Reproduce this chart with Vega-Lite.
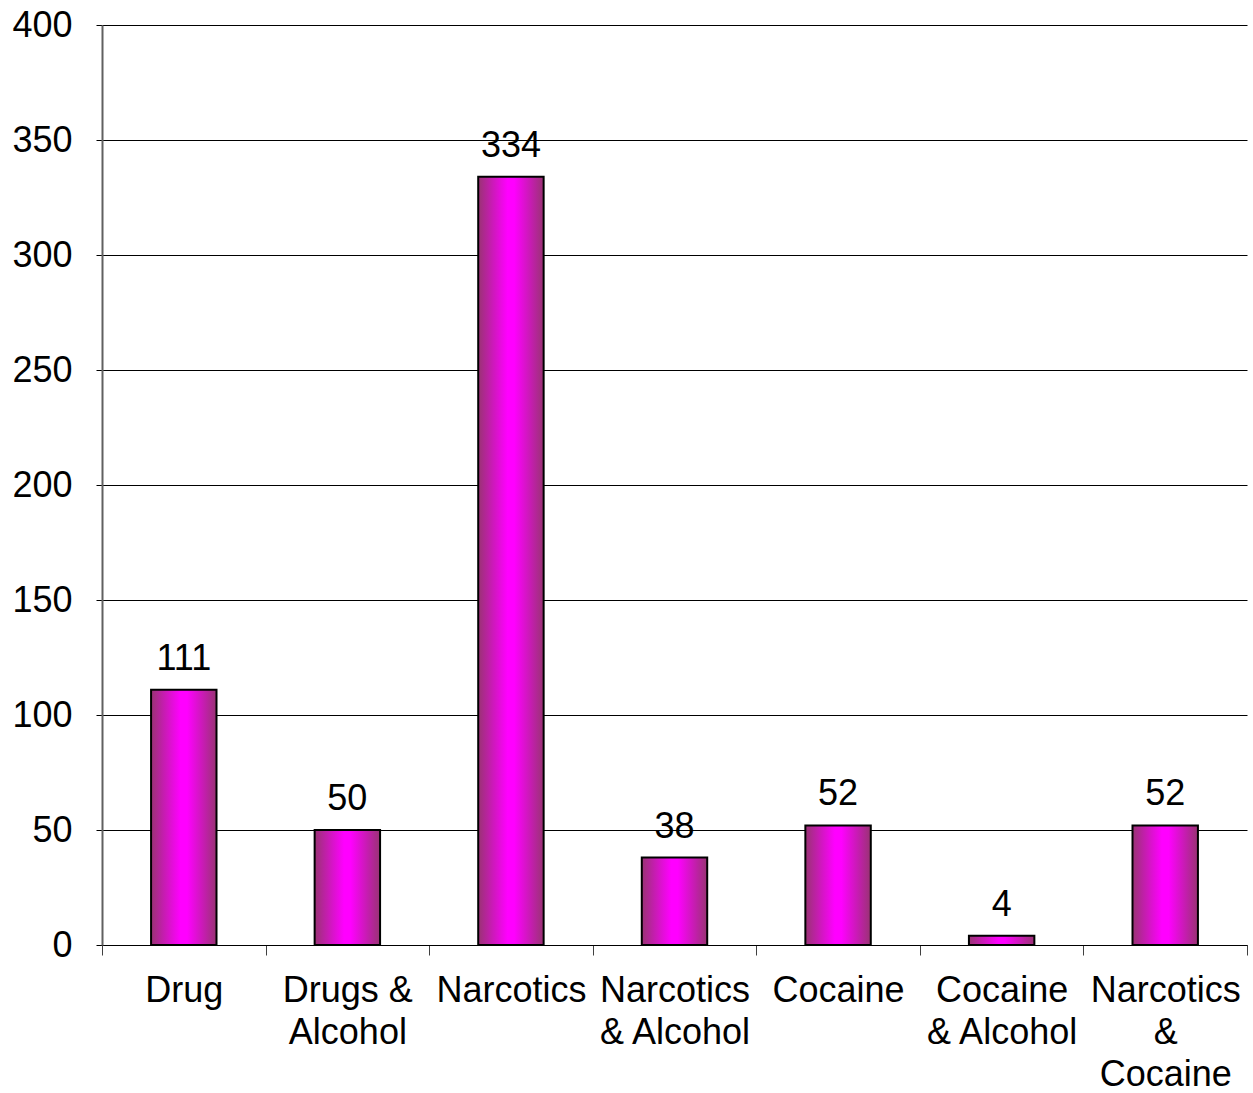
{
  "$schema": "https://vega.github.io/schema/vega-lite/v6.json",
  "width": 1145,
  "height": 920,
  "autosize": {"type": "none"},
  "padding": {"left": 102, "top": 25, "right": 6, "bottom": 148},
  "background": "white",
  "config": {
    "view": {"stroke": null},
    "font": "Liberation Sans"
  },
  "data": {
    "values": [
      {"category": "Drug", "count": 111},
      {"category": "Drugs & Alcohol", "count": 50},
      {"category": "Narcotics", "count": 334},
      {"category": "Narcotics & Alcohol", "count": 38},
      {"category": "Cocaine", "count": 52},
      {"category": "Cocaine & Alcohol", "count": 4},
      {"category": "Narcotics & Cocaine", "count": 52}
    ]
  },
  "encoding": {
    "x": {
      "field": "category",
      "type": "nominal",
      "sort": null,
      "scale": {"paddingInner": 0, "paddingOuter": 0},
      "axis": {
        "title": null,
        "labelAngle": 0,
        "labelFontSize": 36,
        "labelColor": "black",
        "labelFont": "Liberation Sans",
        "labelLineHeight": 42,
        "labelBaseline": "top",
        "labelPadding": 18,
        "labelLimit": 300,
        "tickBand": "extent",
        "tickSize": 10,
        "tickColor": "#404040",
        "domainColor": "black",
        "domainWidth": 1,
        "labelExpr": "datum.value == 'Drugs & Alcohol' ? ['Drugs &', 'Alcohol'] : datum.value == 'Narcotics & Alcohol' ? ['Narcotics', '& Alcohol'] : datum.value == 'Cocaine & Alcohol' ? ['Cocaine', '& Alcohol'] : datum.value == 'Narcotics & Cocaine' ? ['Narcotics', '&', 'Cocaine'] : datum.value"
      }
    },
    "y": {
      "field": "count",
      "type": "quantitative",
      "scale": {"domain": [0, 400], "nice": false},
      "axis": {
        "title": null,
        "values": [0, 50, 100, 150, 200, 250, 300, 350, 400],
        "labelFontSize": 36,
        "labelColor": "black",
        "labelFont": "Liberation Sans",
        "labelPadding": 24,
        "tickSize": 6,
        "tickColor": "black",
        "domainColor": "#606060",
        "domainWidth": 2,
        "grid": true,
        "gridColor": "black",
        "gridWidth": 1,
        "gridOpacity": 1
      }
    }
  },
  "layer": [
    {
      "mark": {
        "type": "bar",
        "width": {"band": 0.4},
        "stroke": "black",
        "strokeWidth": 2,
        "fill": {
          "gradient": "linear",
          "x1": 0, "y1": 0, "x2": 1, "y2": 0,
          "stops": [
            {"offset": 0, "color": "#993373"},
            {"offset": 0.45, "color": "#FF00FF"},
            {"offset": 0.55, "color": "#FF00FF"},
            {"offset": 1, "color": "#993373"}
          ]
        }
      }
    },
    {
      "mark": {
        "type": "text",
        "baseline": "bottom",
        "dy": -12,
        "fontSize": 36,
        "font": "Liberation Sans",
        "color": "black"
      },
      "encoding": {"text": {"field": "count", "type": "quantitative"}}
    }
  ]
}
